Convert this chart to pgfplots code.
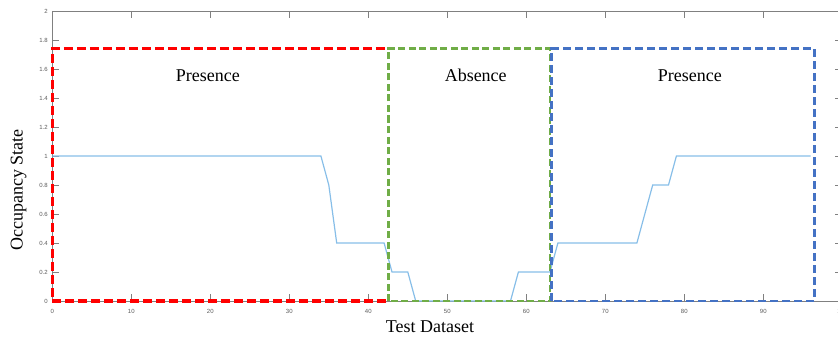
\documentclass[border=0pt]{standalone}
\usepackage{fontspec}
\setmainfont{Liberation Serif}
\newfontfamily\arialfont{Liberation Sans}
\usepackage{pgfplots}
\pgfplotsset{compat=1.18}
\definecolor{lineblue}{RGB}{135,190,232}
\definecolor{boxred}{RGB}{255,0,0}
\definecolor{boxgreen}{RGB}{112,173,71}
\definecolor{boxblue}{RGB}{68,114,196}
\definecolor{axgray}{RGB}{128,128,128}
\definecolor{ticktext}{RGB}{90,90,90}
\begin{document}
\begin{tikzpicture}
\begin{axis}[
  scale only axis, width=790pt, height=290pt,
  xmin=0, xmax=100, ymin=0, ymax=2,
  xtick={0,10,20,30,40,50,60,70,80,90,100},
  ytick={0,0.2,0.4,0.6,0.8,1,1.2,1.4,1.6,1.8,2},
  yticklabels={0,0.2,0.4,0.6,0.8,1,1.2,1.4,1.6,1.8,2},
  tick align=inside, major tick length=7pt,
  tick style={axgray, line width=0.6pt},
  axis line style={axgray, line width=0.8pt},
  clip=false,
  /pgf/number format/assume math mode=true,
  ticklabel style={font=\arialfont\fontsize{6}{7}\selectfont, text=ticktext},
  xticklabel style={yshift=-4.5pt},
  yticklabel style={xshift=-1pt},
  label style={font=\fontsize{18}{21}\selectfont},
  xlabel={Test Dataset},
  ylabel={Occupancy State},
  xlabel style={at={(axis description cs:0.478,-0.088)}, anchor=center},
  ylabel style={at={(axis description cs:-0.0428,0.383)}, anchor=center},
]
\addplot[lineblue, line width=1.2pt] coordinates {
  (0,1) (34,1) (35,0.8) (36,0.4) (42,0.4) (43,0.2) (45,0.2) (46,0)
  (58,0) (59,0.2) (63,0.2) (64,0.4) (74,0.4) (75,0.6) (76,0.8) (78,0.8)
  (79,1) (96,1)
};
\addplot[boxred, line width=3.2pt, dash pattern=on 9pt off 4pt] coordinates {
  (42.3,0) (0,0) (0,1.74) (42.5,1.74)
};
\addplot[boxgreen, line width=2.9pt, dash pattern=on 7pt off 3.5pt] coordinates {
  (42.5,0) (42.5,1.74) (63,1.74) (63,0) (42.5,0)
};
\addplot[boxblue, line width=2.9pt, dash pattern=on 8pt off 4pt] coordinates {
  (63.2,0) (63.2,1.74) (96.5,1.74) (96.5,0) (63.2,0)
};
\node[font=\fontsize{18}{21}\selectfont] at (axis cs:19.7,1.555) {Presence};
\node[font=\fontsize{18}{21}\selectfont] at (axis cs:53.6,1.555) {Absence};
\node[font=\fontsize{18}{21}\selectfont] at (axis cs:80.7,1.555) {Presence};
\end{axis}
\pgfresetboundingbox
\useasboundingbox (-52.3pt,-37pt) rectangle (785.7pt,301pt);
\end{tikzpicture}
\end{document}
